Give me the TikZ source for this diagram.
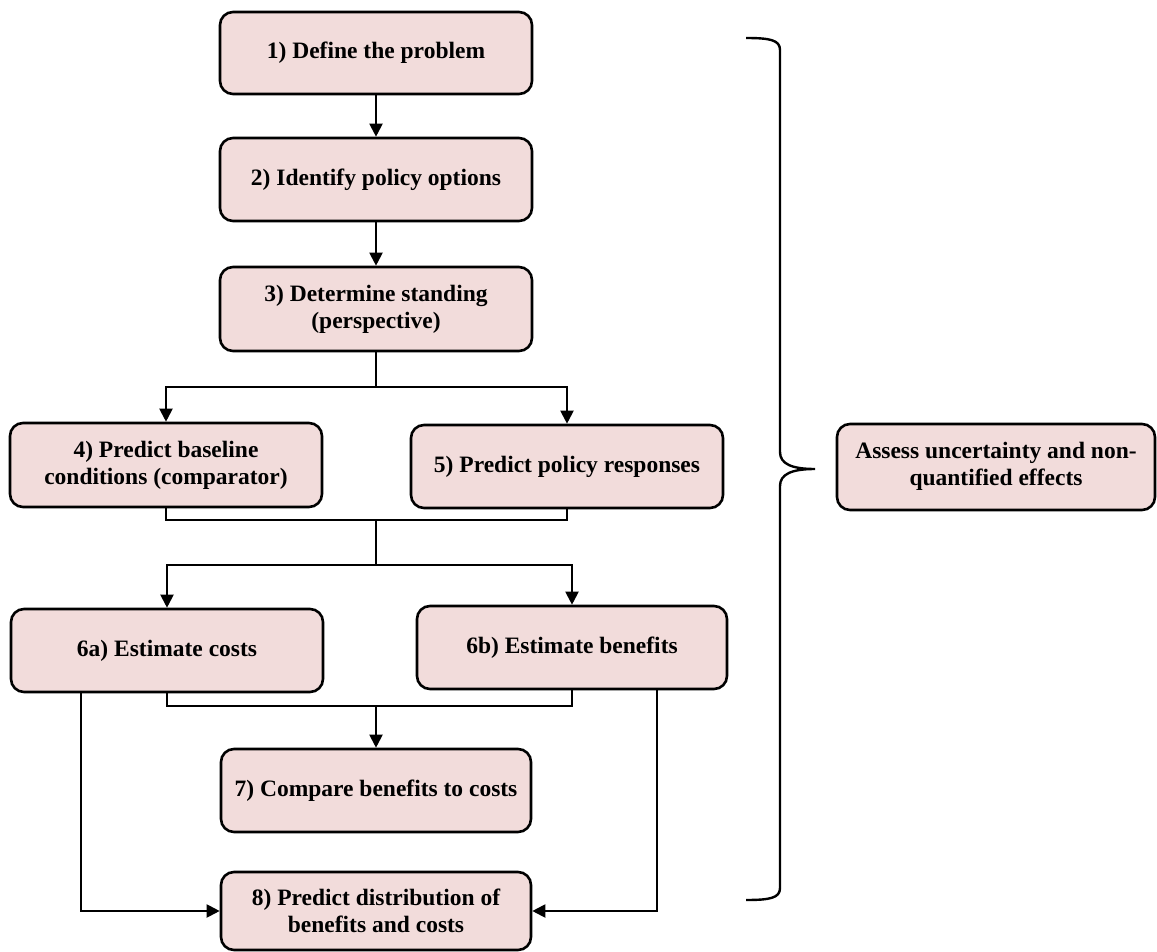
\documentclass[tikz,border=0pt]{standalone}
\usepackage{fontspec}
\setmainfont{Liberation Serif}[BoldFont={Liberation Serif Bold}]
\usetikzlibrary{arrows.meta}
\definecolor{boxpink}{HTML}{F2DCDB}
\tikzset{>={Triangle[length=13pt,width=13pt]},
  stagebox/.style={draw, line width=2.6pt, fill=boxpink, rounded corners=13pt,
    align=center, inner sep=0pt, minimum width=312pt, minimum height=83pt,
    font=\bfseries\fontsize{23.5}{27}\selectfont},
  link/.style={line width=2pt}}

\begin{document}
\begin{tikzpicture}[x=1pt, y=-1pt]
    \useasboundingbox (0,0) rectangle (1157,952);
    \node [stagebox, minimum height=82pt] (b1) at (376,53) {1) Define the problem};
    \node [stagebox] (b2) at (376,179.5) {2) Identify policy options};
    \node [stagebox, minimum height=84pt] (b3) at (376,309) {3) Determine standing\\(perspective)};
    \node [stagebox, minimum height=84pt] (b4) at (166,465) {4) Predict baseline\\conditions (comparator)};
    \node [stagebox] (b5) at (567,466.5) {5) Predict policy responses};
    \node [stagebox] (b6a) at (167,650.5) {6a) Estimate costs};
    \node [stagebox, minimum width=310pt] (b6b) at (572,647.5) {6b) Estimate benefits};
    \node [stagebox, minimum width=310pt] (b7) at (376,790.5) {7) Compare benefits to costs};
    \node [stagebox, minimum width=310pt, minimum height=78pt] (b8) at (376,911) {8) Predict distribution of\\benefits and costs};
    \node [stagebox, minimum width=318pt, minimum height=86pt] (unc) at (996,467) {};
    \node [font=\bfseries\fontsize{23.5}{27}\selectfont, align=center, anchor=base, inner sep=0pt] (unctext) at (996,485) {Assess uncertainty and non-\\quantified effects};

    \coordinate (j1) at (376,387);
    \coordinate (j2) at (376,520);
    \coordinate (j3) at (376,565);
    \coordinate (j4) at (376,706);

    \draw [link, ->] (b1) -- (b2);
    \draw [link, ->] (b2) -- (b3);
    \draw [link] (b3.south) -- (j1);
    \draw [link, ->] (j1) -| (b4.north);
    \draw [link, ->] (j1) -| (b5.north);
    \draw [link] (b4.south) |- (j2) -| (b5.south);
    \draw [link] (j2) -- (j3);
    \draw [link, ->] (j3) -| (b6a.north);
    \draw [link, ->] (j3) -| (b6b.north);
    \draw [link] (b6a.south) |- (j4) -| (b6b.south);
    \draw [link, ->] (j4) -- (b7.north);
    \draw [link, ->] ([xshift=-86pt]b6a.south) |- (b8.west);
    \draw [link, ->] ([xshift=85pt]b6b.south) |- (b8.east);

    % brace
    \draw [line width=2.4pt] (746,38) .. controls (770,38) and (780,40) .. (780,50)
        -- (780,452) .. controls (780,464) and (792,469) .. (815,469)
        .. controls (792,469) and (780,474) .. (780,486)
        -- (780,888) .. controls (780,898) and (770,900) .. (746,900);
\end{tikzpicture}
\end{document}
